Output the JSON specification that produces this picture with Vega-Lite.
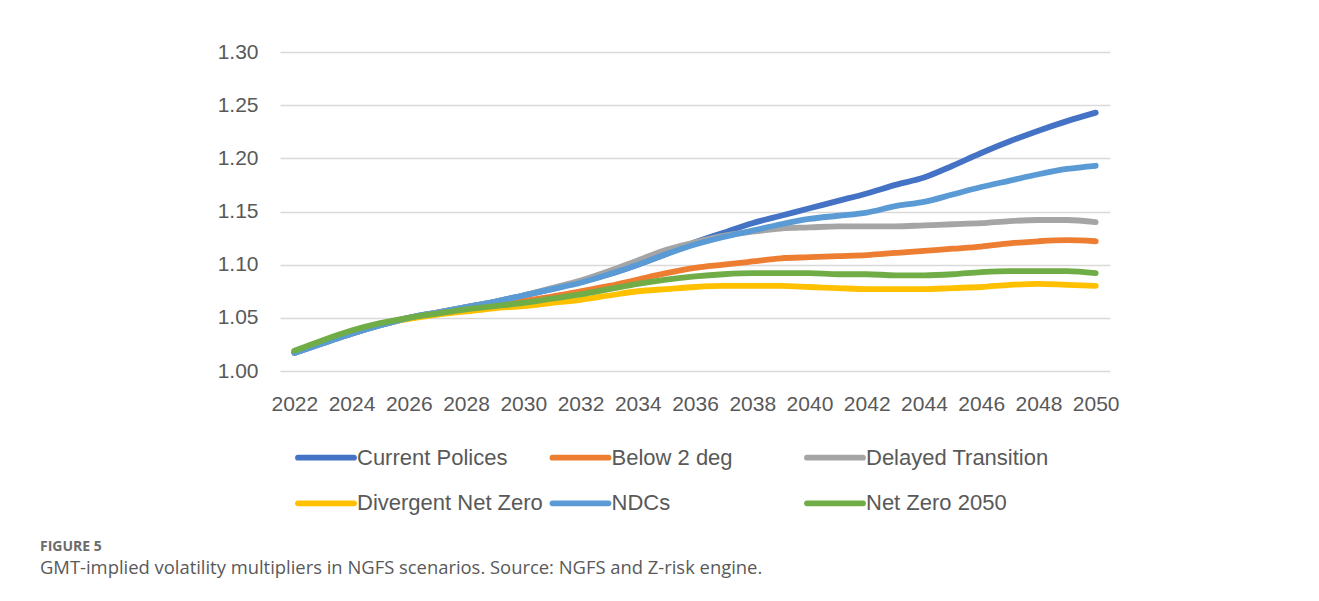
{
  "$schema": "https://vega.github.io/schema/vega-lite/v6.json",
  "width": 830,
  "height": 319,
  "autosize": {"type": "none"},
  "padding": {"left": 280, "top": 52, "right": 209, "bottom": 230},
  "background": "white",
  "config": {"view": {"stroke": null}, "font": "Liberation Sans"},
  "title": {
    "text": "FIGURE 5",
    "subtitle": "GMT-implied volatility multipliers in NGFS scenarios. Source: NGFS and Z-risk engine.",
    "orient": "bottom",
    "anchor": "start",
    "frame": "group",
    "dx": -240,
    "offset": 24,
    "font": "Open Sans",
    "fontSize": 14,
    "fontWeight": "bold",
    "color": "#6b6b6b",
    "subtitleFont": "Open Sans",
    "subtitleFontSize": 18.4,
    "subtitleColor": "#595959",
    "subtitlePadding": 5
  },
  "data": {
    "values": [
      {"year": 2022, "Current Polices": 1.017, "Below 2 deg": 1.018, "Delayed Transition": 1.017, "Divergent Net Zero": 1.018, "NDCs": 1.017, "Net Zero 2050": 1.019},
      {"year": 2023, "Current Polices": 1.026, "Below 2 deg": 1.028, "Delayed Transition": 1.026, "Divergent Net Zero": 1.028, "NDCs": 1.026, "Net Zero 2050": 1.029},
      {"year": 2024, "Current Polices": 1.035, "Below 2 deg": 1.037, "Delayed Transition": 1.035, "Divergent Net Zero": 1.037, "NDCs": 1.035, "Net Zero 2050": 1.038},
      {"year": 2025, "Current Polices": 1.043, "Below 2 deg": 1.044, "Delayed Transition": 1.043, "Divergent Net Zero": 1.044, "NDCs": 1.043, "Net Zero 2050": 1.045},
      {"year": 2026, "Current Polices": 1.050, "Below 2 deg": 1.050, "Delayed Transition": 1.050, "Divergent Net Zero": 1.049, "NDCs": 1.050, "Net Zero 2050": 1.050},
      {"year": 2027, "Current Polices": 1.055, "Below 2 deg": 1.055, "Delayed Transition": 1.055, "Divergent Net Zero": 1.053, "NDCs": 1.055, "Net Zero 2050": 1.054},
      {"year": 2028, "Current Polices": 1.060, "Below 2 deg": 1.059, "Delayed Transition": 1.060, "Divergent Net Zero": 1.056, "NDCs": 1.060, "Net Zero 2050": 1.058},
      {"year": 2029, "Current Polices": 1.065, "Below 2 deg": 1.063, "Delayed Transition": 1.065, "Divergent Net Zero": 1.059, "NDCs": 1.065, "Net Zero 2050": 1.061},
      {"year": 2030, "Current Polices": 1.071, "Below 2 deg": 1.066, "Delayed Transition": 1.071, "Divergent Net Zero": 1.061, "NDCs": 1.071, "Net Zero 2050": 1.064},
      {"year": 2031, "Current Polices": 1.077, "Below 2 deg": 1.070, "Delayed Transition": 1.078, "Divergent Net Zero": 1.064, "NDCs": 1.077, "Net Zero 2050": 1.068},
      {"year": 2032, "Current Polices": 1.084, "Below 2 deg": 1.075, "Delayed Transition": 1.085, "Divergent Net Zero": 1.067, "NDCs": 1.083, "Net Zero 2050": 1.072},
      {"year": 2033, "Current Polices": 1.091, "Below 2 deg": 1.080, "Delayed Transition": 1.094, "Divergent Net Zero": 1.071, "NDCs": 1.091, "Net Zero 2050": 1.077},
      {"year": 2034, "Current Polices": 1.100, "Below 2 deg": 1.086, "Delayed Transition": 1.104, "Divergent Net Zero": 1.075, "NDCs": 1.100, "Net Zero 2050": 1.082},
      {"year": 2035, "Current Polices": 1.110, "Below 2 deg": 1.092, "Delayed Transition": 1.114, "Divergent Net Zero": 1.077, "NDCs": 1.110, "Net Zero 2050": 1.086},
      {"year": 2036, "Current Polices": 1.121, "Below 2 deg": 1.097, "Delayed Transition": 1.121, "Divergent Net Zero": 1.079, "NDCs": 1.119, "Net Zero 2050": 1.089},
      {"year": 2037, "Current Polices": 1.130, "Below 2 deg": 1.100, "Delayed Transition": 1.127, "Divergent Net Zero": 1.080, "NDCs": 1.126, "Net Zero 2050": 1.091},
      {"year": 2038, "Current Polices": 1.139, "Below 2 deg": 1.103, "Delayed Transition": 1.131, "Divergent Net Zero": 1.080, "NDCs": 1.132, "Net Zero 2050": 1.092},
      {"year": 2039, "Current Polices": 1.146, "Below 2 deg": 1.106, "Delayed Transition": 1.134, "Divergent Net Zero": 1.080, "NDCs": 1.138, "Net Zero 2050": 1.092},
      {"year": 2040, "Current Polices": 1.153, "Below 2 deg": 1.107, "Delayed Transition": 1.135, "Divergent Net Zero": 1.079, "NDCs": 1.143, "Net Zero 2050": 1.092},
      {"year": 2041, "Current Polices": 1.160, "Below 2 deg": 1.108, "Delayed Transition": 1.136, "Divergent Net Zero": 1.078, "NDCs": 1.146, "Net Zero 2050": 1.091},
      {"year": 2042, "Current Polices": 1.167, "Below 2 deg": 1.109, "Delayed Transition": 1.136, "Divergent Net Zero": 1.077, "NDCs": 1.149, "Net Zero 2050": 1.091},
      {"year": 2043, "Current Polices": 1.175, "Below 2 deg": 1.111, "Delayed Transition": 1.136, "Divergent Net Zero": 1.077, "NDCs": 1.155, "Net Zero 2050": 1.090},
      {"year": 2044, "Current Polices": 1.182, "Below 2 deg": 1.113, "Delayed Transition": 1.137, "Divergent Net Zero": 1.077, "NDCs": 1.159, "Net Zero 2050": 1.090},
      {"year": 2045, "Current Polices": 1.193, "Below 2 deg": 1.115, "Delayed Transition": 1.138, "Divergent Net Zero": 1.078, "NDCs": 1.166, "Net Zero 2050": 1.091},
      {"year": 2046, "Current Polices": 1.205, "Below 2 deg": 1.117, "Delayed Transition": 1.139, "Divergent Net Zero": 1.079, "NDCs": 1.173, "Net Zero 2050": 1.093},
      {"year": 2047, "Current Polices": 1.216, "Below 2 deg": 1.120, "Delayed Transition": 1.141, "Divergent Net Zero": 1.081, "NDCs": 1.179, "Net Zero 2050": 1.094},
      {"year": 2048, "Current Polices": 1.226, "Below 2 deg": 1.122, "Delayed Transition": 1.142, "Divergent Net Zero": 1.082, "NDCs": 1.185, "Net Zero 2050": 1.094},
      {"year": 2049, "Current Polices": 1.235, "Below 2 deg": 1.123, "Delayed Transition": 1.142, "Divergent Net Zero": 1.081, "NDCs": 1.190, "Net Zero 2050": 1.094},
      {"year": 2050, "Current Polices": 1.243, "Below 2 deg": 1.122, "Delayed Transition": 1.140, "Divergent Net Zero": 1.080, "NDCs": 1.193, "Net Zero 2050": 1.092}
    ]
  },
  "transform": [
    {"fold": ["Current Polices", "Below 2 deg", "Delayed Transition", "Divergent Net Zero", "NDCs", "Net Zero 2050"], "as": ["scenario", "value"]}
  ],
  "mark": {"type": "line", "strokeWidth": 5.8, "strokeCap": "round", "strokeJoin": "round", "interpolate": "monotone"},
  "encoding": {
    "x": {
      "field": "year",
      "type": "ordinal",
      "scale": {"type": "point", "padding": 0.5},
      "axis": {
        "title": null,
        "values": [2022, 2024, 2026, 2028, 2030, 2032, 2034, 2036, 2038, 2040, 2042, 2044, 2046, 2048, 2050],
        "labelAngle": 0,
        "labelFont": "Liberation Sans",
        "labelFontSize": 21,
        "labelColor": "#595959",
        "labelPadding": 22,
        "ticks": false,
        "tickSize": 0,
        "domain": false,
        "grid": false,
        "labelOverlap": false
      }
    },
    "y": {
      "field": "value",
      "type": "quantitative",
      "scale": {"domain": [1, 1.3], "nice": false, "zero": false},
      "axis": {
        "title": null,
        "values": [1, 1.05, 1.1, 1.15, 1.2, 1.25, 1.3],
        "format": ".2f",
        "labelFont": "Liberation Sans",
        "labelFontSize": 21,
        "labelColor": "#595959",
        "labelPadding": 22,
        "ticks": false,
        "tickSize": 0,
        "domain": false,
        "grid": true,
        "gridColor": "#D9D9D9",
        "gridWidth": 1.5
      }
    },
    "color": {
      "field": "scenario",
      "type": "nominal",
      "sort": null,
      "scale": {
        "domain": ["Current Polices", "Below 2 deg", "Delayed Transition", "Divergent Net Zero", "NDCs", "Net Zero 2050"],
        "range": ["#4472C4", "#ED7D31", "#A5A5A5", "#FFC000", "#5B9BD5", "#70AD47"]
      },
      "legend": {
        "title": null,
        "orient": "none",
        "legendX": 18,
        "legendY": 394.5,
        "direction": "horizontal",
        "columns": 3,
        "gridAlign": "all",
        "symbolType": "M-3.5,0H3.5",
        "symbolSize": 256,
        "symbolStrokeWidth": 5.8,
        "symbolOffset": 17,
        "labelOffset": 20,
        "labelFont": "Liberation Sans",
        "labelFontSize": 22,
        "labelColor": "#595959",
        "labelLimit": 400,
        "columnPadding": -2.5,
        "rowPadding": 21.8,
        "padding": 0,
        "encode": {"symbols": {"update": {"strokeCap": {"value": "round"}}}}
      }
    }
  }
}
